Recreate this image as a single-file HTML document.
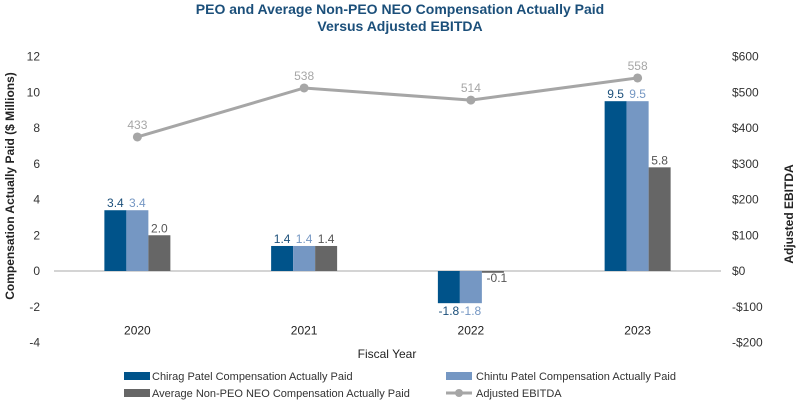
<!DOCTYPE html>
<html><head><meta charset="utf-8"><style>
body{margin:0;background:#fff;font-family:"Liberation Sans",sans-serif;}
svg text{font-family:"Liberation Sans",sans-serif;}
</style></head><body>
<svg width="800" height="403" viewBox="0 0 800 403">
<text x="400" y="14" text-anchor="middle" font-size="14" font-weight="bold" fill="#1b4f7a">PEO and Average Non-PEO NEO Compensation Actually Paid</text>
<text x="400" y="31" text-anchor="middle" font-size="14" font-weight="bold" fill="#1b4f7a">Versus Adjusted EBITDA</text>
<g id="plot"></g>
<text transform="translate(14,186) rotate(-90)" text-anchor="middle" font-size="12" font-weight="bold" fill="#222">Compensation Actually Paid ($ Millions)</text>
<text transform="translate(793,214) rotate(-90)" text-anchor="middle" font-size="12" font-weight="bold" fill="#222">Adjusted EBITDA</text>
<text x="387" y="358" text-anchor="middle" font-size="12" fill="#222">Fiscal Year</text>
<g>
<rect x="124" y="372" width="26" height="8" fill="#00538a"/>
<text x="152" y="380" font-size="11" fill="#333">Chirag Patel Compensation Actually Paid</text>
<rect x="446" y="372" width="26" height="8" fill="#7597c3"/>
<text x="476" y="380" font-size="11" fill="#333">Chintu Patel Compensation Actually Paid</text>
<rect x="124" y="389" width="26" height="8" fill="#666666"/>
<text x="152" y="397" font-size="11" fill="#333">Average Non-PEO NEO Compensation Actually Paid</text>
<line x1="446" y1="393" x2="472" y2="393" stroke="#a6a6a6" stroke-width="3"/>
<circle cx="459" cy="393" r="4" fill="#a6a6a6"/>
<text x="476" y="397" font-size="11" fill="#333">Adjusted EBITDA</text>
</g>
</svg>
<script>
const categories=["2020","2021","2022","2023"];
const chiragValues=[3.4,1.4,-1.8,9.5];
const chintuValues=[3.4,1.4,-1.8,9.5];
const averageValues=[2.0,1.4,-0.1,5.8];
const ebitdaPlotted=[375,512,478,540];
const ebitdaLabels=["433","538","514","558"];
const leftTicks=[12,10,8,6,4,2,0,-2,-4];
const rightTicks=[600,500,400,300,200,100,0,-100,-200];

const NS="http://www.w3.org/2000/svg";
const g=document.getElementById('plot');
const X0=54,X1=721,Y0=271,PX=286/16;
const yL=v=>Y0-v*PX;
const yR=v=>Y0-v*PX*16/800;
const band=(X1-X0)/categories.length;
const cx=i=>X0+band*(i+0.5);
function mk(tag,attrs,txt){const e=document.createElementNS(NS,tag);for(const k in attrs)e.setAttribute(k,attrs[k]);if(txt!=null)e.textContent=txt;g.appendChild(e);return e;}
leftTicks.forEach(t=>{const e=mk('text',{x:40,y:yL(t)+4,'text-anchor':'end','font-size':12,fill:'#333'},String(t));

});
rightTicks.forEach(t=>{const e=mk('text',{x:732,y:yR(t)+4,'font-size':12,fill:'#333'},(t<0?'-$':'$')+Math.abs(t));

});
const zl=mk('line',{x1:X0,x2:X1,y1:Y0,y2:Y0,stroke:'#aaa','stroke-width':1});


const series=[[chiragValues,'#00538a','#1b4f7a','chirag'],[chintuValues,'#7597c3','#7597c3','chintu'],[averageValues,'#666666','#555','average']];
const bw=22;
categories.forEach((c,i)=>{
  const t=mk('text',{x:cx(i),y:yL(-4)-8,'text-anchor':'middle','font-size':12,fill:'#222'},c);
  
  
  series.forEach((s,j)=>{
    const v=s[0][i];const x=cx(i)-1.5*bw+j*bw;
    const top=Math.min(yL(v),Y0),h=Math.max(Math.abs(yL(v)-Y0),1);
    const r=mk('rect',{x:x,y:top,width:bw,height:h,fill:s[1]});
    
    
    const ly=v>=0?yL(v)-3:(j==2?Y0+11:yL(v)+12);
    const lx=(v<0&&j==2)?x+bw/2+4:x+bw/2;
    const l=mk('text',{x:lx,y:ly,'text-anchor':'middle','font-size':12,fill:s[2]},v.toFixed(1));
    
    
  });
});
const pl=mk('polyline',{points:ebitdaPlotted.map((v,i)=>cx(i)+','+yR(v)).join(' '),fill:'none',stroke:'#a6a6a6','stroke-width':3});


ebitdaPlotted.forEach((v,i)=>{
  const c=mk('circle',{cx:cx(i),cy:yR(v),r:4.5,fill:'#a6a6a6'});
  
  
  const t=mk('text',{x:cx(i),y:yR(v)-8,'text-anchor':'middle','font-size':12,fill:'#a6a6a6'},ebitdaLabels[i]);
  
  
});
</script>
</body></html>
